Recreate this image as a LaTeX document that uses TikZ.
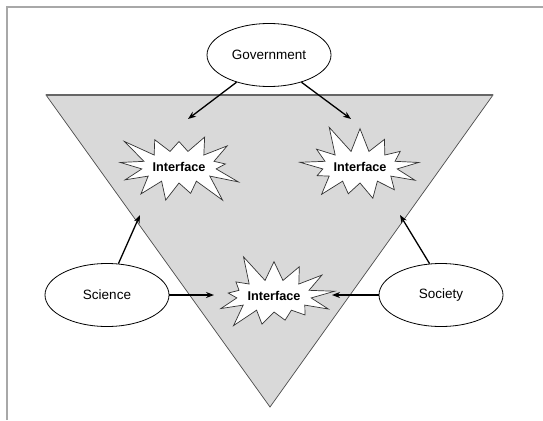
\documentclass[tikz,border=0pt]{standalone}
\usepackage{fontspec}
\setmainfont{Liberation Sans}
\usetikzlibrary{shapes.geometric,shapes.symbols,arrows.meta}
\definecolor{panelgray}{HTML}{D9D9D9}
\definecolor{framegray}{HTML}{A8A8A8}
\tikzset{
  actor/.style={ellipse, draw=black, line width=0.8pt, fill=white,
    minimum width=124pt, minimum height=63pt, inner sep=0pt,
    font=\fontsize{13.5}{16}\selectfont},
  burst/.style={starburst, draw=black!80, line width=0.7pt, fill=white,
    starburst points=13, starburst point height=30pt,
    minimum width=132pt, minimum height=92pt, inner sep=0pt,
    font=\fontsize{12.7}{15}\selectfont\bfseries},
  link/.style={-{Stealth[length=8pt,width=6pt]}, line width=1.3pt, black},
}
\begin{document}
\begin{tikzpicture}[x=1pt,y=-1pt]
  \useasboundingbox (0,0) rectangle (543,420);
  % page frame
  \draw[framegray, line width=1.5pt] (7,420) -- (7,7) -- (543,7);
  % shaded triangle
  \draw[fill=panelgray, draw=black!70, line width=0.7pt]
    (46,95) -- (493,95) -- (270,407) -- cycle;
  \draw[black!60, line width=1.2pt] (46,95) -- (493,95);
  % actors
  \node[actor] (gov) at (269,55) {Government};
  \node[actor] (sci) at (107,295) {Science};
  \node[actor] (soc) at (441,295) {Society};
  % interfaces
  \node[burst, random starburst=3] (ifl) at (179,167) {Interface};
  \node[burst, random starburst=11] (ifr) at (360,167) {Interface};
  \node[burst, random starburst=5] (ifb) at (274,296) {Interface};
  % arrow ends
  \coordinate (gl) at (188,119);
  \coordinate (gr) at (351,119);
  \coordinate (sl) at (140,215);
  \coordinate (sr) at (400,215);
  \coordinate (bl) at (214,295);
  \coordinate (br) at (332,295);
  % connectors
  \draw[link] (gov.220) -- (gl);
  \draw[link] (gov.-40) -- (gr);
  \draw[link] (sci.70) -- (sl);
  \draw[link] (soc.110) -- (sr);
  \draw[link] (sci.east) -- (bl);
  \draw[link] (soc.west) -- (br);
\end{tikzpicture}
\end{document}
